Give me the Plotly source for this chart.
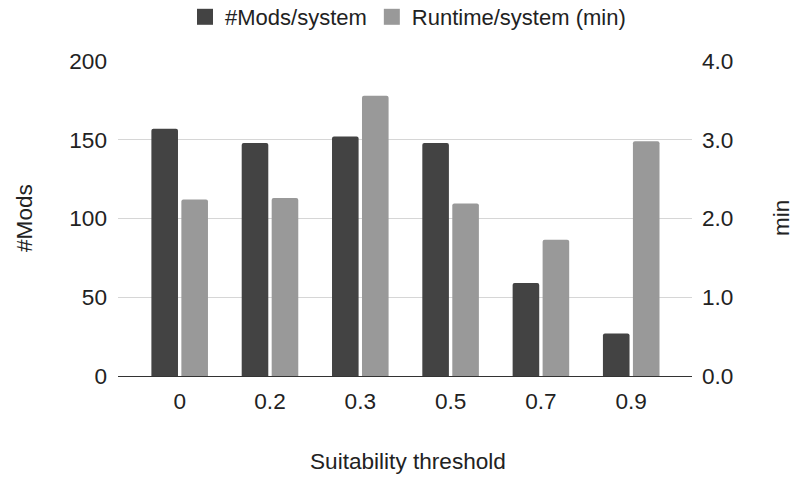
import plotly.graph_objects as go

categories = ["0", "0.2", "0.3", "0.5", "0.7", "0.9"]
mods_per_system = [157, 148, 152, 148, 59, 27]
runtime_per_system = [2.24, 2.26, 3.56, 2.19, 1.73, 2.98]

W, H = 796, 479
L, R, T, B = 118, 104, 61, 103
FONT = "Liberation Sans, Arial, sans-serif"
TXT = "#222222"
FS = 22.6
LFS = 22
DARK, LIGHT = "#434343", "#999999"

fig = go.Figure()
fig.add_trace(go.Bar(x=categories, y=mods_per_system, name="#Mods/system",
                     marker=dict(color=DARK, line=dict(width=0), cornerradius=2),
                     offsetgroup="a", yaxis="y", showlegend=False))
fig.add_trace(go.Bar(x=categories, y=runtime_per_system, name="Runtime/system (min)",
                     marker=dict(color=LIGHT, line=dict(width=0), cornerradius=2),
                     offsetgroup="b", yaxis="y2", showlegend=False))
# legend entries with larger square swatches
fig.add_trace(go.Scatter(x=[None], y=[None], mode="markers", name="#Mods/system",
                         marker=dict(symbol="square", size=16, color=DARK), yaxis="y"))
fig.add_trace(go.Scatter(x=[None], y=[None], mode="markers", name="Runtime/system (min)",
                         marker=dict(symbol="square", size=16, color=LIGHT), yaxis="y"))

def px_x(p):
    return (p - L) / (W - L - R)

def px_y(p):
    return 1 - (p - T) / (H - T - B)

fig.update_layout(
    width=W, height=H,
    margin=dict(l=L, r=R, t=T, b=B, autoexpand=False),
    paper_bgcolor="white", plot_bgcolor="white",
    font=dict(family=FONT, size=FS, color=TXT),
    barmode="group", bargap=0.336, bargroupgap=0.113,
    showlegend=True,
    legend=dict(orientation="h", x=px_x(408), xanchor="center", y=px_y(17), yanchor="middle",
                font=dict(size=LFS, color=TXT),
                bgcolor="rgba(0,0,0,0)", itemwidth=30),
    xaxis=dict(type="category", range=[-0.683, 5.673], showgrid=False,
               showline=True, linecolor="#333333", linewidth=1,
               ticks="", ticklabelstandoff=5, tickfont=dict(size=FS, color=TXT)),
    yaxis=dict(range=[0, 200], dtick=50, showgrid=True, gridcolor="#d6d6d6", gridwidth=1,
               zeroline=False, showline=False, ticks="",
               ticklabelstandoff=10, tickfont=dict(size=FS, color=TXT)),
    yaxis2=dict(range=[0, 4], dtick=1, tickformat=".1f", overlaying="y", side="right",
                showgrid=False, zeroline=False, showline=False, ticks="",
                ticklabelstandoff=9, tickfont=dict(size=FS, color=TXT)),
    annotations=[
        dict(text="#Mods", xref="paper", yref="paper", x=px_x(24), y=px_y(218),
             textangle=-90, showarrow=False, xanchor="center", yanchor="middle",
             font=dict(size=FS, color=TXT)),
        dict(text="min", xref="paper", yref="paper", x=px_x(781), y=px_y(218),
             textangle=-90, showarrow=False, xanchor="center", yanchor="middle",
             font=dict(size=FS, color=TXT)),
        dict(text="Suitability threshold", xref="paper", yref="paper", x=px_x(408), y=px_y(461),
             showarrow=False, xanchor="center", yanchor="middle",
             font=dict(size=FS, color=TXT)),
    ],
)

fig.write_html("out.html")
